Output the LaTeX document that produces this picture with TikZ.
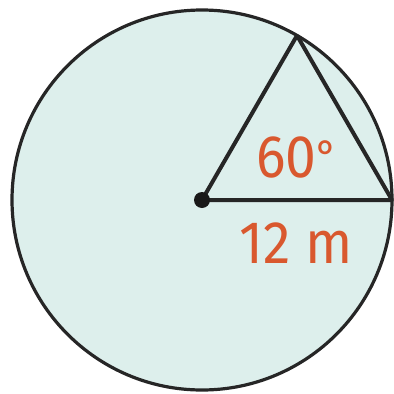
\documentclass[tikz,border=0pt]{standalone}
\usepackage{fontspec}
\setmainfont{Fira Sans}
\definecolor{fillc}{HTML}{DDEFEC}
\definecolor{labc}{HTML}{D9582E}
\begin{document}
\begin{tikzpicture}[x=1pt,y=-1pt,
  edge/.style={draw=black!85,line width=4pt,line join=round},
  lab/.style={text=labc,font=\fontsize{60}{60}\selectfont,inner sep=0pt}]
\useasboundingbox (0,0) rectangle (394,394);
\coordinate (O) at (202,200);
\coordinate (A) at (297,35.5);
\coordinate (B) at (392,200);
\fill[fillc] (O) circle[radius=190];
\fill[white] (A) arc[start angle=60,end angle=0,radius=190] -- cycle;
\draw[black!85,line width=3.2pt] (O) circle[radius=190];
\draw[edge] (A) -- (O) -- (B) -- (A);
\fill[black!90] (O) circle[radius=8];
\node[lab,xscale=0.92] (ang) at (297,157) {60\raisebox{0.1em}{\fontsize{44}{44}\selectfont°}};
\node[lab,xscale=0.92] (len) at (296,243) {12 m};
\end{tikzpicture}
\end{document}
